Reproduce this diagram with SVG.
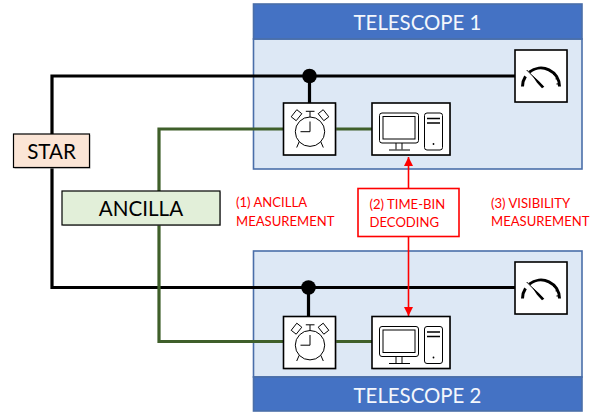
<svg xmlns="http://www.w3.org/2000/svg" xmlns:xlink="http://www.w3.org/1999/xlink" width="602" height="416" viewBox="0 0 602 416">
<style>
text{font-family:"Lato","Open Sans","Liberation Sans",sans-serif}
.body{fill:#dde8f5;stroke:#4a6ea9;stroke-width:1.6}
.head{fill:#4472c4;stroke:#4a6ea9;stroke-width:1.6}
.ht{fill:#f4f7fc;font-size:20.4px;text-anchor:middle}
.box{fill:#fff;stroke:#000;stroke-width:1.6}
.shadow{fill:#9a9a9a;opacity:.55}
.blk{fill:none;stroke:#000;stroke-width:3.2}
.grn{fill:none;stroke:#3f5f2a;stroke-width:3.2}
.red{fill:none;stroke:#ff0000;stroke-width:1.6}
.redt{fill:#ff0000;font-size:13.1px}
.ic{fill:none;stroke:#000;stroke-width:1}
.lab{fill:#000;font-size:20.6px;text-anchor:middle}
</style>
<defs>
<marker id="arr" markerUnits="userSpaceOnUse" markerWidth="10" markerHeight="9" refX="9" refY="4.5" orient="auto-start-reverse"><path d="M0,0L9,4.5L0,9Z" fill="#ff0000"/></marker>
<g id="clock">
<rect class="shadow" x="1" y="1" width="52" height="52"/>
<rect class="box" width="52" height="52"/>
<circle class="ic" cx="26.500" cy="28.700" r="14.700"/>
<path class="ic" d="M26.500,28.700V18.500M26.500,28.700H17M26.500,14V8.500M22.300,8.300H31M15.700,38.800L13.200,44.500M37.300,38.800L39.800,44.500"/>
<path class="ic" d="M7.700,13.800L13.300,6.700L18.300,10.700L12.700,17.700ZM45.300,13.800L39.700,6.700L34.700,10.700L40.300,17.700Z" stroke-linejoin="round"/>
</g>
<g id="computer">
<rect class="shadow" x="1" y="1" width="78" height="52"/>
<rect class="box" width="78" height="52"/>
<rect class="ic" x="7.500" y="10" width="39" height="30" rx="2.500" stroke-width="1.200"/>
<rect class="ic" x="11" y="13.500" width="32" height="22.500" stroke-width="1.400"/>
<path class="ic" d="M24,40V46.500M30,40V46.500M17,47H38" />
<rect class="ic" x="52.500" y="10" width="18" height="37" rx="2.500"/>
<path d="M55,15.500H68M55,20H68" stroke="#000" stroke-width="1.500" fill="none"/>
<circle cx="61.500" cy="41" r=".9" fill="#000"/>
</g>
<g id="meter">
<rect class="shadow" x="1" y="1" width="52" height="52"/>
<rect class="box" width="52" height="52"/>
<path d="M7.500,36.500A18.500,18.500 0 0 1 10.500,26.400M14.300,22.200A18.500,18.500 0 0 1 44.500,36.500" fill="none" stroke="#000" stroke-width="3"/>
<path d="M19.500,19.500A16,16 0 0 1 42,36.500" fill="none" stroke="#000" stroke-width="1.500" stroke-dasharray="1 4.200"/>
<path d="M11.700,20L28,36.500" fill="none" stroke="#000" stroke-width="1"/>
<path d="M17,25L24,31.300L29.300,36.700L27,38.300L21.800,32.500Z" fill="#000"/>
</g>
</defs>
<g id="telescope1">
<rect class="body" x="253.500" y="39" width="328.500" height="130"/>
<rect class="head" x="253.500" y="4" width="328.500" height="35"/>
<text class="ht" x="417.500" y="30">TELESCOPE 1</text>
</g>
<g id="telescope2">
<rect class="body" x="253.500" y="251" width="328.500" height="126"/>
<rect class="head" x="253.500" y="377" width="328.500" height="34"/>
<text class="ht" x="417.500" y="403">TELESCOPE 2</text>
</g>
<g id="connectors">
<path class="blk" d="M515,76H52V287.500H515"/>
<path class="blk" d="M309.500,76V103M308.500,287.500V316"/>
<path class="grn" d="M284,129H159V341.500H284M335,129H372M335,341.500H372"/>
<path class="red" d="M408.500,188.500V157" marker-end="url(#arr)"/>
<path class="red" d="M408.500,236V316" marker-end="url(#arr)"/>
<circle cx="309.500" cy="76" r="7.300" fill="#000"/>
<circle cx="308.500" cy="287.500" r="7.300" fill="#000"/>
</g>
<g id="star">
<rect x="14.500" y="135" width="76" height="34" class="shadow"/>
<rect x="13.500" y="134" width="76" height="33.500" fill="#fbe5d6" stroke="#000" stroke-width="1.200"/>
<text class="lab" x="51.500" y="158.500">STAR</text>
</g>
<g id="ancilla">
<rect x="63" y="192" width="158" height="34" class="shadow"/>
<rect x="62" y="191" width="158" height="34" fill="#e2efd9" stroke="#000" stroke-width="1.200"/>
<text class="lab" x="141" y="216">ANCILLA</text>
</g>
<g id="clock1"><use xlink:href="#clock" href="#clock" x="283.500" y="103"/></g>
<g id="computer1"><use xlink:href="#computer" href="#computer" x="372" y="103"/></g>
<g id="meter1"><use xlink:href="#meter" href="#meter" x="515" y="50"/></g>
<g id="clock2"><use xlink:href="#clock" href="#clock" x="283.500" y="316.500"/></g>
<g id="computer2"><use xlink:href="#computer" href="#computer" x="372" y="316.500"/></g>
<g id="meter2"><use xlink:href="#meter" href="#meter" x="515" y="262"/></g>
<g id="decoding">
<rect x="358" y="188.500" width="101" height="48" fill="#fff" stroke="#ff0000" stroke-width="1.600"/>
<text class="redt" x="369.500" y="209">(2) TIME-BIN</text>
<text class="redt" x="369.500" y="227">DECODING</text>
</g>
<g id="label1">
<text class="redt" x="236" y="207">(1) ANCILLA</text>
<text class="redt" x="236" y="226">MEASUREMENT</text>
</g>
<g id="label3">
<text class="redt" x="491" y="208">(3) VISIBILITY</text>
<text class="redt" x="491" y="226">MEASUREMENT</text>
</g>
</svg>
